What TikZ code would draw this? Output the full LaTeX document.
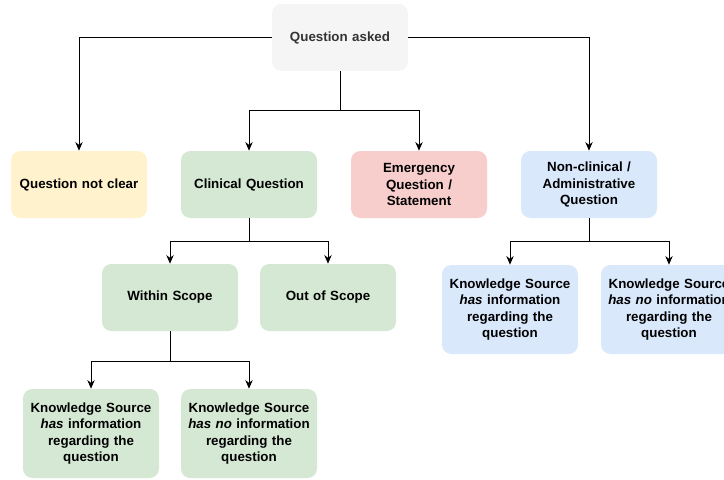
\documentclass[tikz,border=0pt]{standalone}
\usepackage{fontspec}
\setmainfont{Liberation Sans}
\usepackage{xcolor}
\usetikzlibrary{arrows.meta}

\definecolor{greyfill}{HTML}{F5F5F5}
\definecolor{yellowfill}{HTML}{FFF2CC}
\definecolor{greenfill}{HTML}{D5E8D4}
\definecolor{redfill}{HTML}{F8CECC}
\definecolor{bluefill}{HTML}{DAE8FC}
\definecolor{textgrey}{HTML}{333333}

\tikzset{
    box/.style={rounded corners=7pt, minimum width=102pt, minimum height=50.25pt,
        text width=100pt, align=center, inner sep=0pt, font=\bfseries\fontsize{10}{12.3}\selectfont},
    tallbox/.style={box, minimum height=66.75pt},
    link/.style={line width=0.75pt, -{Stealth[length=6.5pt,width=5.5pt]}},
}

\begin{document}
\begin{tikzpicture}[x=0.75pt,y=-0.75pt]
    \useasboundingbox (0,0) rectangle (724,479);

    % Root
    \node[box, fill=greyfill, text=textgrey] (q) at (340,37.5) {Question asked};

    % First level
    \node[box, fill=yellowfill] (unclear) at (79,184.5) {Question not clear};
    \node[box, fill=greenfill] (clin) at (249,184.5) {Clinical Question};
    \node[box, fill=redfill] (emerg) at (419,184.5) {Emergency\\Question /\\Statement};
    \node[box, fill=bluefill] (nonclin) at (589,184.5) {Non-clinical /\\Administrative\\Question};

    % Clinical branch
    \node[box, fill=greenfill] (within) at (170,297.5) {Within Scope};
    \node[box, fill=greenfill] (outscope) at (328,297.5) {Out of Scope};
    \node[tallbox, fill=greenfill] (kshas) at (91,433.5)
        {Knowledge Source\\\textit{has} information\\regarding the\\question};
    \node[tallbox, fill=greenfill] (kshasno) at (249,433.5)
        {Knowledge Source\\\textit{has no} information\\regarding the\\question};

    % Non-clinical branch
    \node[tallbox, fill=bluefill] (adminhas) at (510,309.5)
        {Knowledge Source\\\textit{has} information\\regarding the\\question};
    \node[tallbox, fill=bluefill] (adminhasno) at (669,309.5)
        {Knowledge Source\\\textit{has no} information\\regarding the\\question};

    % Connectors
    \draw[link] (q.west) -| (unclear.north);
    \draw[link] (q.east) -| (nonclin.north);
    \draw[link] (q.south) -- ++(0,39) -| (clin.north);
    \draw[link] (q.south) -- ++(0,39) -| (emerg.north);

    \draw[link] (clin.south) -- ++(0,23) -| (within.north);
    \draw[link] (clin.south) -- ++(0,23) -| (outscope.north);

    \draw[link] (within.south) -- ++(0,30) -| (kshas.north);
    \draw[link] (within.south) -- ++(0,30) -| (kshasno.north);

    \draw[link] (nonclin.south) -- ++(0,23) -| (adminhas.north);
    \draw[link] (nonclin.south) -- ++(0,23) -| (adminhasno.north);
\end{tikzpicture}
\end{document}
